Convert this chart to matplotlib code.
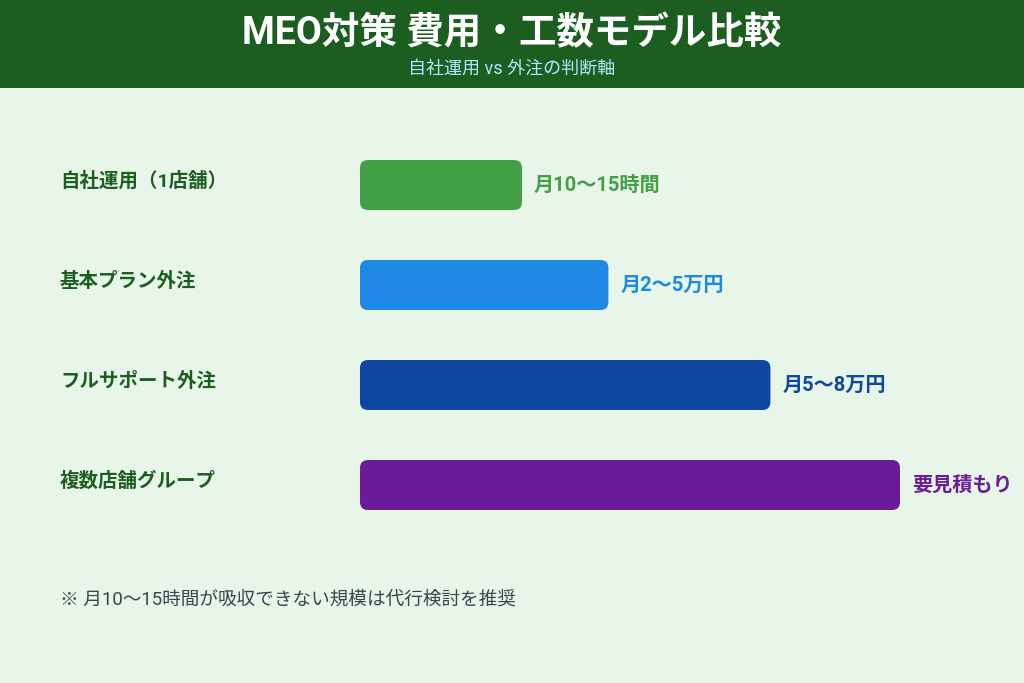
import matplotlib.pyplot as plt
from matplotlib.patches import FancyBboxPatch, Rectangle

plt.rcParams['font.family'] = ['Roboto', 'Noto Sans CJK JP', 'DejaVu Sans']

# データ
categories = ['自社運用（1店舗）', '基本プラン外注', 'フルサポート外注', '複数店舗グループ']
values = [30, 46, 76, 100]
value_labels = ['月10〜15時間', '月2〜5万円', '月5〜8万円', '要見積もり']
colors = ['#43A047', '#1E88E5', '#0D47A1', '#6A1B9A']

W, H = 1024, 683
fig = plt.figure(figsize=(W / 100, H / 100), dpi=100)
fig.patch.set_facecolor('#E8F5E9')

# ヘッダー帯
fig.patches.append(Rectangle((0, 1 - 88 / H), 1, 88 / H, transform=fig.transFigure,
                             facecolor='#1B5E20', edgecolor='none', zorder=0))
fig.text(0.5, 1 - 34 / H, 'MEO対策 費用・工数モデル比較', ha='center', va='center',
         fontsize=27, fontweight='bold', color='white')
fig.text(0.5, 1 - 69 / H, '自社運用 vs 外注の判断軸', ha='center', va='center',
         fontsize=13, color='#B3E5FC')

# 棒グラフ領域 (x: 0..100 -> 540px, 1行 100px)
ax = fig.add_axes([360 / W, 1 - 535 / H, 540 / W, 400 / H])
ax.set_xlim(0, 100)
ax.set_ylim(len(categories) - 0.5, -0.5)
ax.axis('off')

bar_h = 0.5
px_x = 540 / 100
px_y = 400 / len(categories)
r = 8 / px_x
aspect = (8 / px_y) / r

for i, (v, c, lab) in enumerate(zip(values, colors, value_labels)):
    box = FancyBboxPatch((0, i - bar_h / 2), v, bar_h,
                         boxstyle=f'round,pad=0,rounding_size={r}',
                         mutation_aspect=aspect, facecolor=c, edgecolor='none')
    ax.add_patch(box)
    ax.text(v + 12 / px_x, i, lab, ha='left', va='center',
            fontsize=14.5, fontweight='bold', color=c)
    fig.text(60 / W, 1 - (185 + 100 * i - 4) / H, categories[i], ha='left', va='center',
             fontsize=14, fontweight='bold', color='#1B5E20')

fig.text(60 / W, 1 - 600 / H, '※ 月10〜15時間が吸収できない規模は代行検討を推奨',
         ha='left', va='center', fontsize=13.4, color='#37474F')

fig.savefig('out.png', dpi=100, facecolor=fig.get_facecolor())
